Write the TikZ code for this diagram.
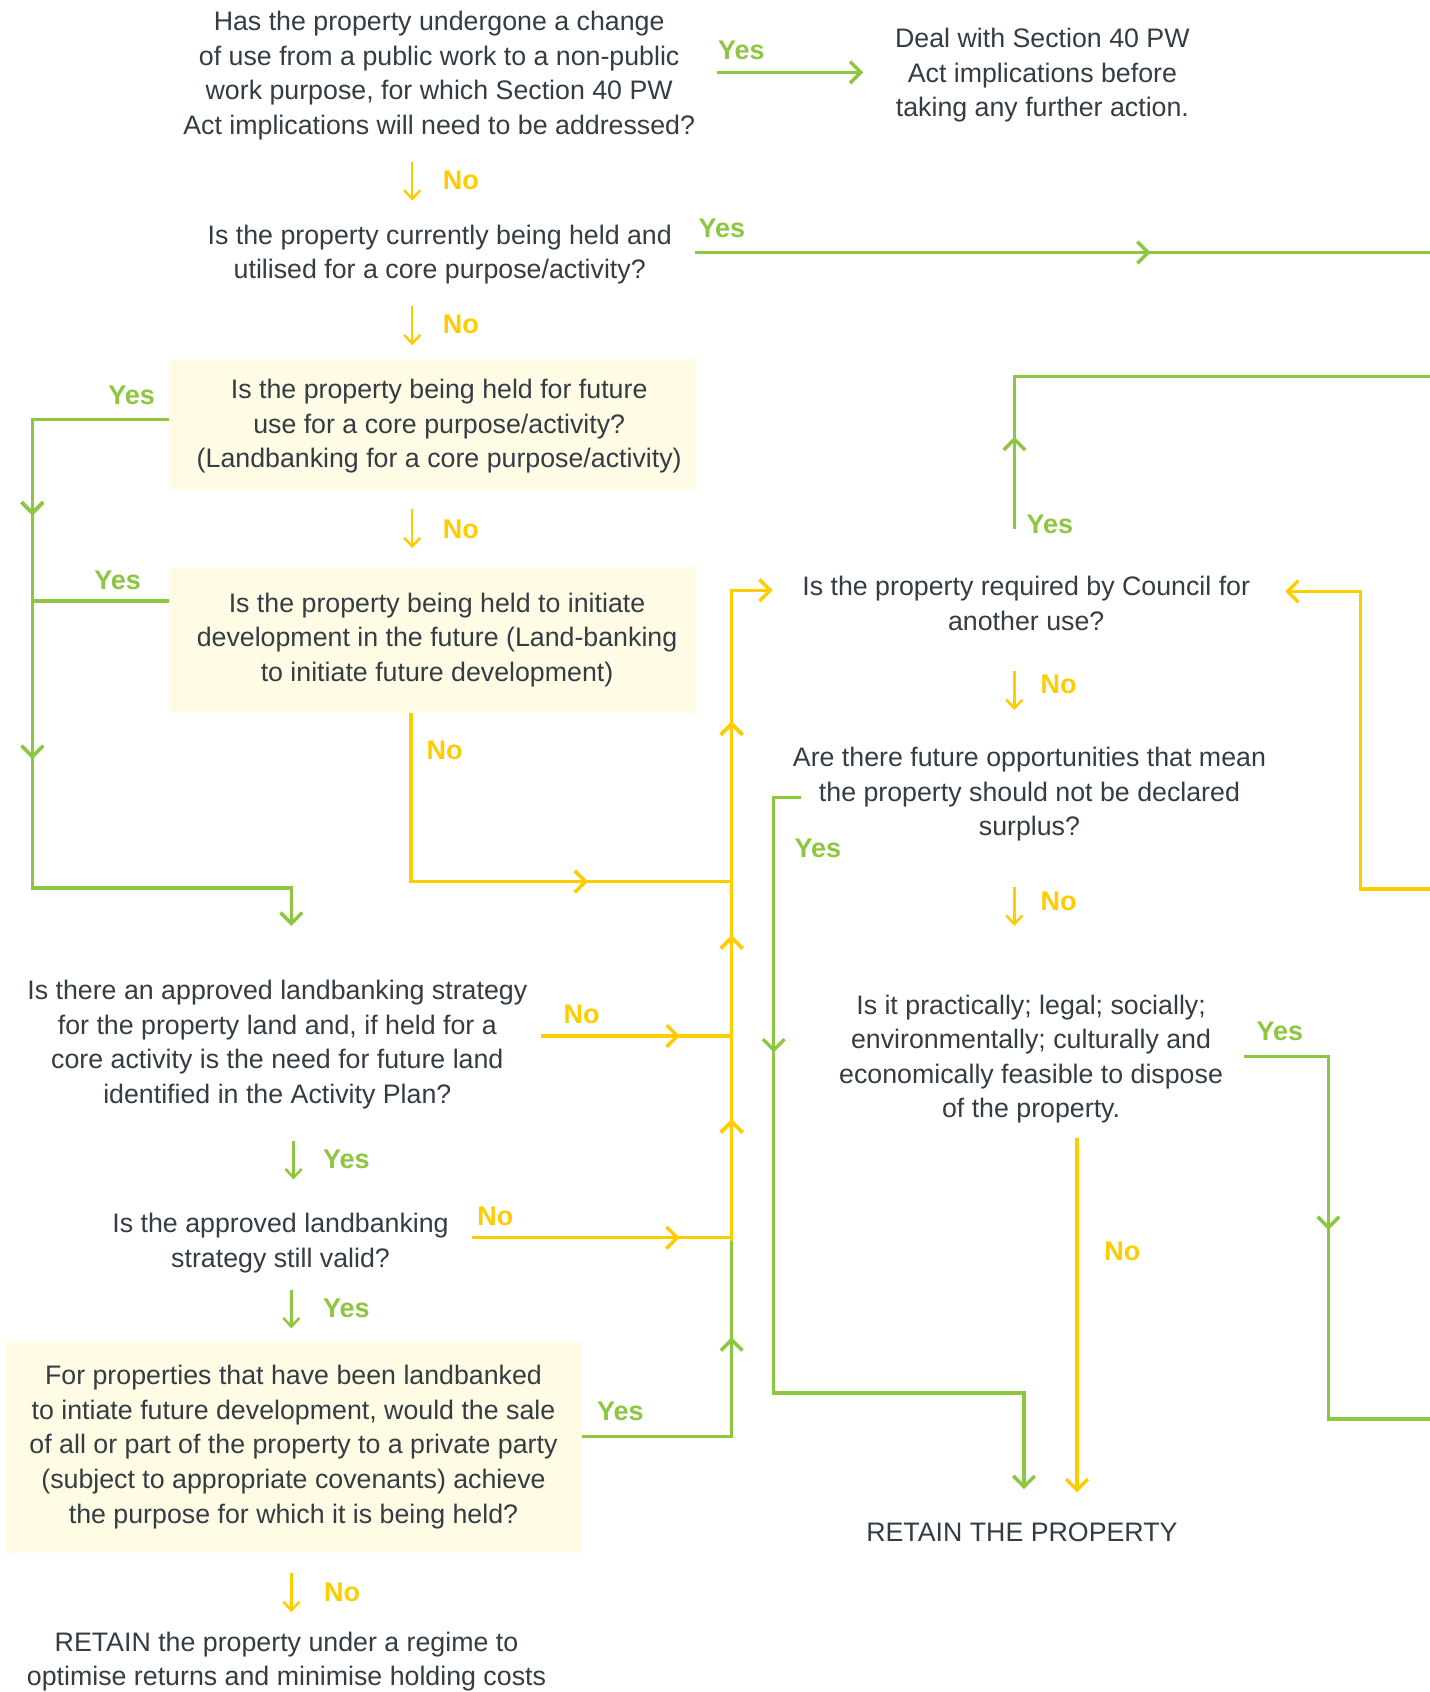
\documentclass[tikz,border=0pt]{standalone}
\usepackage{fontspec}
\setmainfont{Liberation Sans}
\usetikzlibrary{arrows.meta,decorations.markings}
\definecolor{gr}{RGB}{141,198,63}
\definecolor{ye}{RGB}{255,204,0}
\definecolor{tx}{RGB}{52,60,68}
\definecolor{cream}{RGB}{255,251,229}
\begin{document}
\begin{tikzpicture}[x=0.5pt,y=-0.5pt,
 txt/.style={font=\fontsize{12.4}{16}\selectfont, text=tx, align=center, inner sep=0pt, yshift=-1pt},
 lab/.style={font=\bfseries\fontsize{12.5}{15}\selectfont, inner sep=0pt},
 ylab/.style={lab,text=ye}, glab/.style={lab,text=gr},
 conn/.style={line width=1.6pt},
 gline/.style={conn,draw=gr}, yline/.style={conn,draw=ye},
 tip/.style={-{Straight Barb[length=5pt,width=10pt]}},
 marr/.style={postaction={decorate},decoration={markings,mark=at position #1 with {\arrow{Straight Barb[length=5pt,width=10pt]}}}},
 smallarr/.style={line width=1.15pt,-{Straight Barb[length=4pt,width=7.5pt]}},
 cbox/.style={fill=cream, draw=none, inner sep=0pt}
]
\fill[white] (0,0) rectangle (1325,1568);
\useasboundingbox (0,0) rectangle (1325,1568);

% boxes
\node[cbox, minimum width=244pt, minimum height=61pt] (b3) at (401,394) {};
\node[cbox, minimum width=244pt, minimum height=68pt] (b4) at (401,593) {};
\node[cbox, minimum width=266.5pt, minimum height=98pt] (b10) at (272.5,1341) {};

% texts
\node[txt] (q1) at (407,68) {Has the property undergone a change\\of use from a public work to a non-public\\work purpose, for which Section 40 PW\\Act implications will need to be addressed?};
\node[txt] (d1) at (966,68) {Deal with Section 40 PW\\Act implications before\\taking any further action.};
\node[txt] (q2) at (407.5,234) {Is the property currently being held and\\utilised for a core purpose/activity?};
\node[txt] (q3) at (407,393) {Is the property being held for future\\use for a core purpose/activity?\\(Landbanking for a core purpose/activity)};
\node[txt] (q4) at (405,591) {Is the property being held to initiate\\development in the future (Land-banking\\to initiate future development)};
\node[txt] (q5) at (951,557) {Is the property required by Council for\\another use?};
\node[txt] (q6) at (954,734) {Are there future opportunities that mean\\the property should not be declared\\surplus?};
\node[txt] (q7) at (955.5,979.5) {Is it practically; legal; socially;\\environmentally; culturally and\\economically feasible to dispose\\of the property.};
\node[txt] (ret) at (947,1418) {RETAIN THE PROPERTY};
\node[txt] (q8) at (257,966) {Is there an approved landbanking strategy\\for the property land and, if held for a\\core activity is the need for future land\\identified in the Activity Plan?};
\node[txt] (q9) at (260,1150) {Is the approved landbanking\\strategy still valid?};
\node[txt] (q10) at (272,1339) {For properties that have been landbanked\\to intiate future development, would the sale\\of all or part of the property to a private party\\(subject to appropriate covenants) achieve\\the purpose for which it is being held?};
\node[txt] (fin) at (265.5,1538) {RETAIN the property under a regime to\\optimise returns and minimise holding costs};

% labels
\node[glab] (l1) at (687,47) {Yes};
\node[glab] (l2) at (669,212) {Yes};
\node[ylab] (l3) at (427,167) {No};
\node[ylab] (l4) at (427,301) {No};
\node[glab] (l5) at (122,366) {Yes};
\node[ylab] (l6) at (427,491) {No};
\node[glab] (l7) at (109,538) {Yes};
\node[ylab] (l8) at (412,695) {No};
\node[glab] (l9) at (973,486) {Yes};
\node[ylab] (l10) at (981,634) {No};
\node[glab] (l11) at (758,786) {Yes};
\node[ylab] (l12) at (981,835) {No};
\node[glab] (l13) at (1186,956) {Yes};
\node[ylab] (l14) at (1040,1160) {No};
\node[ylab] (l15) at (539,940) {No};
\node[glab] (l16) at (321,1074) {Yes};
\node[ylab] (l17) at (459,1127) {No};
\node[glab] (l18) at (321,1212) {Yes};
\node[glab] (l19) at (575,1308) {Yes};
\node[ylab] (l20) at (317,1476) {No};

% coordinates
\coordinate (c1a) at (664,67);   \coordinate (c1b) at (800,67);
\coordinate (c2a) at (644,234);  \coordinate (c2b) at (1325,234);
\coordinate (c3a) at (157,389);  \coordinate (c3b) at (30,389);
\coordinate (c3c) at (30,823);   \coordinate (c3d) at (270,823); \coordinate (c3e) at (270,858);
\coordinate (c4a) at (157,557);  \coordinate (c4b) at (30,557);
\coordinate (c4c) at (381,661);  \coordinate (c4d) at (381,817); \coordinate (c4e) at (678,817);
\coordinate (v1) at (678,1150);  \coordinate (v2) at (678,547);  \coordinate (v3) at (716,547);
\coordinate (c10a) at (539,1331); \coordinate (c10b) at (678,1331);
\coordinate (c8a) at (501,960);  \coordinate (c8b) at (678,960);
\coordinate (c9a) at (437,1147); \coordinate (c9b) at (678,1147);
\coordinate (c5a) at (940,490);  \coordinate (c5b) at (940,349); \coordinate (c5c) at (1325,349);
\coordinate (r1) at (1325,824);  \coordinate (r2) at (1261,824); \coordinate (r3) at (1261,548); \coordinate (r4) at (1191,548);
\coordinate (c6a) at (742,739);  \coordinate (c6b) at (717,739); \coordinate (c6c) at (717,1291); \coordinate (c6d) at (949,1291); \coordinate (c6e) at (949,1380);
\coordinate (c7a) at (1153,979); \coordinate (c7b) at (1231,979); \coordinate (c7c) at (1231,1315); \coordinate (c7d) at (1325,1315);
\coordinate (c7e) at (998,1055); \coordinate (c7f) at (998,1383);

% connectors
\draw[gline,tip] (c1a) -- (c1b);
\draw[gline,marr=0.62] (c2a) -- (c2b);
\draw[gline,tip,marr=0.258,marr=0.528] (c3a) -- (c3b) -- (c3c) -- (c3d) -- (c3e);
\draw[gline] (c4a) -- (c4b);
\draw[yline,marr=0.706] (c4c) -- (c4d) -- (c4e);
\draw[gline,marr=0.721] (c10a) -- (c10b) -- (v1);
\draw[yline,tip,marr=0.176,marr=0.442,marr=0.751] (v1) -- (v2) -- (v3);
\draw[yline,marr=0.729] (c8a) -- (c8b);
\draw[yline,marr=0.80] (c9a) -- (c9b);
\draw[gline,marr=0.162] (c5a) -- (c5b) -- (c5c);
\draw[yline,tip] (r1) -- (r2) -- (r3) -- (r4);
\draw[gline,tip,marr=0.291] (c6a) -- (c6b) -- (c6c) -- (c6d) -- (c6e);
\draw[gline,marr=0.47] (c7a) -- (c7b) -- (c7c) -- (c7d);
\draw[yline,tip] (c7e) -- (c7f);

% small arrows
\coordinate (s1a) at (382,150); \coordinate (s1b) at (382,186);
\coordinate (s2a) at (382,284); \coordinate (s2b) at (382,320);
\coordinate (s3a) at (382,472); \coordinate (s3b) at (382,508);
\coordinate (s4a) at (940,622); \coordinate (s4b) at (940,658);
\coordinate (s5a) at (940,822); \coordinate (s5b) at (940,858);
\coordinate (s6a) at (272,1057); \coordinate (s6b) at (272,1093);
\coordinate (s7a) at (270,1195); \coordinate (s7b) at (270,1231);
\coordinate (s8a) at (270,1458); \coordinate (s8b) at (270,1494);
\draw[smallarr,ye] (s1a) -- (s1b);
\draw[smallarr,ye] (s2a) -- (s2b);
\draw[smallarr,ye] (s3a) -- (s3b);
\draw[smallarr,ye] (s4a) -- (s4b);
\draw[smallarr,ye] (s5a) -- (s5b);
\draw[smallarr,gr] (s6a) -- (s6b);
\draw[smallarr,gr] (s7a) -- (s7b);
\draw[smallarr,ye] (s8a) -- (s8b);
\end{tikzpicture}
\end{document}
